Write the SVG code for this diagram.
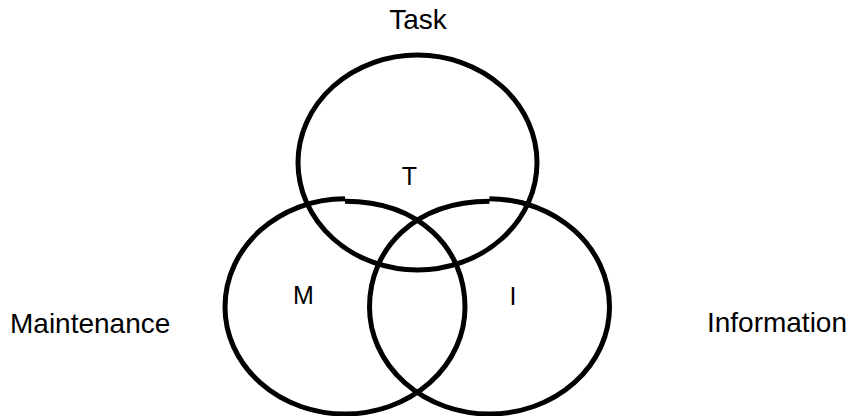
<svg xmlns="http://www.w3.org/2000/svg" width="850" height="416" viewBox="0 0 850 416">
  <style>
    .ring { fill: none; stroke: #000; stroke-width: 5; stroke-linecap: butt; }
    .lbl { font-family: "Liberation Sans", Arial, sans-serif; fill: #000; }
    .outer { font-size: 28px; }
    .inner { font-size: 25px; text-anchor: middle; }
  </style>
  <rect x="0" y="0" width="850" height="416" fill="#fff"/>
  <g id="task">
    <ellipse class="ring" cx="417.5" cy="162.5" rx="119.5" ry="107.5"/>
    <text class="lbl outer" x="418" y="29" text-anchor="middle">Task</text>
    <text class="lbl inner" x="409.5" y="185">T</text>
  </g>
  <g id="maintenance">
    <path class="ring" d="M 345,201.2 C 420,201.2 465,249 465,307 A 120 107 0 0 1 225,307 C 225,247.2 278.7,198.8 345,198.8"/>
    <text class="lbl outer" x="10" y="333">Maintenance</text>
    <text class="lbl inner" x="303.5" y="304">M</text>
  </g>
  <g id="information">
    <path class="ring" d="M 489.5,198.8 C 555.8,198.8 609.5,247.2 609.5,307 A 120 107 0 0 1 369.5,307 C 369.5,249 414.5,201.2 489.5,201.2"/>
    <text class="lbl outer" x="847" y="332" text-anchor="end">Information</text>
    <text class="lbl inner" x="513" y="305">I</text>
  </g>
</svg>
